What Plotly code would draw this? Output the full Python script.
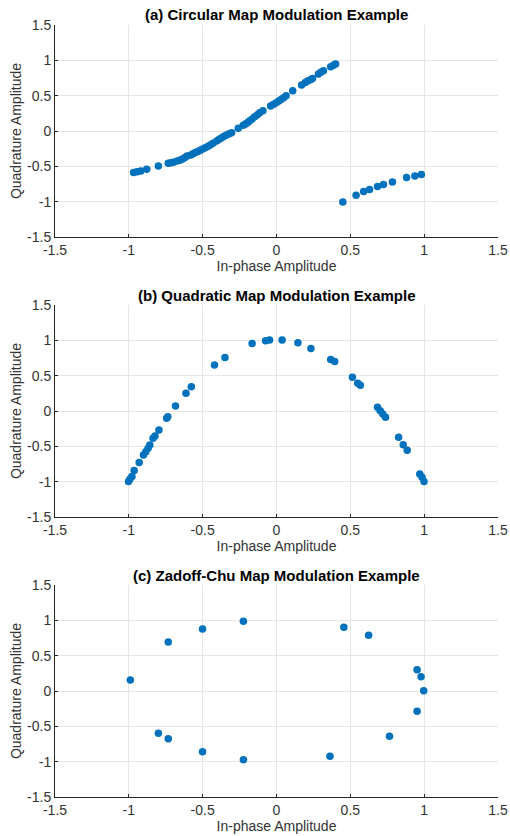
import plotly.graph_objects as go

# Panel (a) Circular map
circ_i = [-0.968, -0.945, -0.919, -0.879, -0.800, -0.733, -0.715, -0.698, -0.673, -0.655, -0.640, -0.622, -0.606,
          -0.580, -0.565, -0.550, -0.532, -0.516, -0.500, -0.483, -0.466, -0.449, -0.430, -0.405, -0.388, -0.371,
          -0.355, -0.338, -0.320, -0.304, -0.259, -0.225, -0.210, -0.195, -0.181, -0.165, -0.148, -0.130, -0.114,
          -0.092, -0.040, -0.022, -0.002, 0.015, 0.031, 0.048, 0.065, 0.110, 0.170, 0.195, 0.210, 0.230, 0.244,
          0.284, 0.300, 0.318, 0.367, 0.385, 0.400]
circ_q = [-0.589, -0.578, -0.565, -0.542, -0.495, -0.457, -0.450, -0.443, -0.425, -0.415, -0.398, -0.380, -0.353,
          -0.340, -0.322, -0.306, -0.290, -0.273, -0.255, -0.236, -0.218, -0.198, -0.175, -0.141, -0.118, -0.094,
          -0.075, -0.057, -0.040, -0.024, 0.038, 0.080, 0.099, 0.120, 0.146, 0.170, 0.203, 0.230, 0.259, 0.287,
          0.353, 0.375, 0.400, 0.423, 0.447, 0.470, 0.499, 0.570, 0.650, 0.685, 0.707, 0.727, 0.744, 0.805, 0.830,
          0.853, 0.909, 0.930, 0.947]
circ_i2 = [0.449, 0.539, 0.590, 0.630, 0.684, 0.724, 0.785, 0.881, 0.937, 0.981]
circ_q2 = [-1.003, -0.909, -0.857, -0.829, -0.787, -0.758, -0.721, -0.659, -0.636, -0.617]

# Panel (b) Quadratic map
quad_i = [-1.002, -0.993, -0.979, -0.964, -0.930, -0.901, -0.885, -0.870, -0.858, -0.836, -0.823, -0.796,
          -0.744, -0.736, -0.684, -0.613, -0.577, -0.420, -0.349, -0.165, -0.074, -0.047, 0.038, 0.145, 0.233,
          0.367, 0.394, 0.514, 0.550, 0.568, 0.684, 0.702, 0.720, 0.738, 0.827, 0.858, 0.885, 0.970, 0.986, 0.999]
quad_q = [-0.999, -0.966, -0.928, -0.843, -0.730, -0.622, -0.575, -0.528, -0.480, -0.386, -0.353, -0.268,
          -0.104, -0.080, 0.071, 0.250, 0.344, 0.650, 0.758, 0.956, 0.994, 1.003, 1.003, 0.966, 0.886,
          0.730, 0.702, 0.476, 0.391, 0.363, 0.052, 0.005, -0.042, -0.089, -0.372, -0.476, -0.556, -0.890, -0.937, -0.999]

# Panel (c) Zadoff-Chu map
zc_i = [-0.224, -0.501, -0.733, -0.990, -0.800, -0.733, -0.501, -0.224, 0.362, 0.765, 0.952, 0.997, 0.979, 0.952, 0.624, 0.456]
zc_q = [0.986, 0.877, 0.693, 0.156, -0.599, -0.675, -0.858, -0.972, -0.925, -0.642, -0.288, 0.005, 0.203, 0.302, 0.788, 0.901]

titles = ["(a) Circular Map Modulation Example",
          "(b) Quadratic Map Modulation Example",
          "(c) Zadoff-Chu Map Modulation Example"]
tick_vals = [-1.5, -1, -0.5, 0, 0.5, 1, 1.5]
tick_text = ["-1.5", "-1", "-0.5", "0", "0.5", "1", "1.5"]

W, H = 510, 836
color = "#0072BD"
font = "Liberation Sans, Arial, sans-serif"
tick_color = "#333333"

panels = [
    ([circ_i, circ_i2], [circ_q, circ_q2]),
    ([quad_i], [quad_q]),
    ([zc_i], [zc_q]),
]
# pixel positions of plot areas (top, bottom)
rows_px = [(25, 237), (305, 517), (585, 797)]
x_px = (55, 498)

fig = go.Figure()
for k, ((xs, ys), (top, bot)) in enumerate(zip(panels, rows_px)):
    n = "" if k == 0 else str(k + 1)
    for xv, yv in zip(xs, ys):
        fig.add_trace(go.Scatter(x=xv, y=yv, mode="markers",
                                 marker=dict(color=color, size=7.5, line=dict(width=0)),
                                 xaxis="x" + n, yaxis="y" + n, showlegend=False))
    axcommon = dict(range=[-1.5, 1.5], tickvals=tick_vals, ticktext=tick_text,
                    showgrid=True, gridcolor="#e6e6e6", gridwidth=1, zeroline=False,
                    showline=True, linecolor="#262626", linewidth=1,
                    ticks="inside", ticklen=3, tickcolor="#262626",
                    ticklabeloverflow="allow", automargin=False,
                    tickfont=dict(family=font, size=14, color=tick_color))
    fig.layout["xaxis" + n] = dict(axcommon, domain=[x_px[0] / W, x_px[1] / W],
                                    anchor="y" + n,
                                    title=dict(text="In-phase Amplitude", standoff=3,
                                               font=dict(family=font, size=14, color=tick_color)))
    fig.layout["yaxis" + n] = dict(axcommon, domain=[1 - bot / H, 1 - top / H],
                                    anchor="x" + n,
                                    title=dict(text="Quadrature Amplitude", standoff=2,
                                               font=dict(family=font, size=14, color=tick_color)))
    fig.add_annotation(text="<b>" + titles[k] + "</b>", xref="paper", yref="paper",
                       x=(x_px[0] + x_px[1]) / 2 / W, y=1 - (top - 10) / H,
                       xanchor="center", yanchor="middle", showarrow=False,
                       font=dict(family=font, size=15, color="#000000"))

fig.update_layout(width=W, height=H, margin=dict(l=0, r=0, t=0, b=0),
                  plot_bgcolor="white", paper_bgcolor="white")
fig.write_html("out.html")
